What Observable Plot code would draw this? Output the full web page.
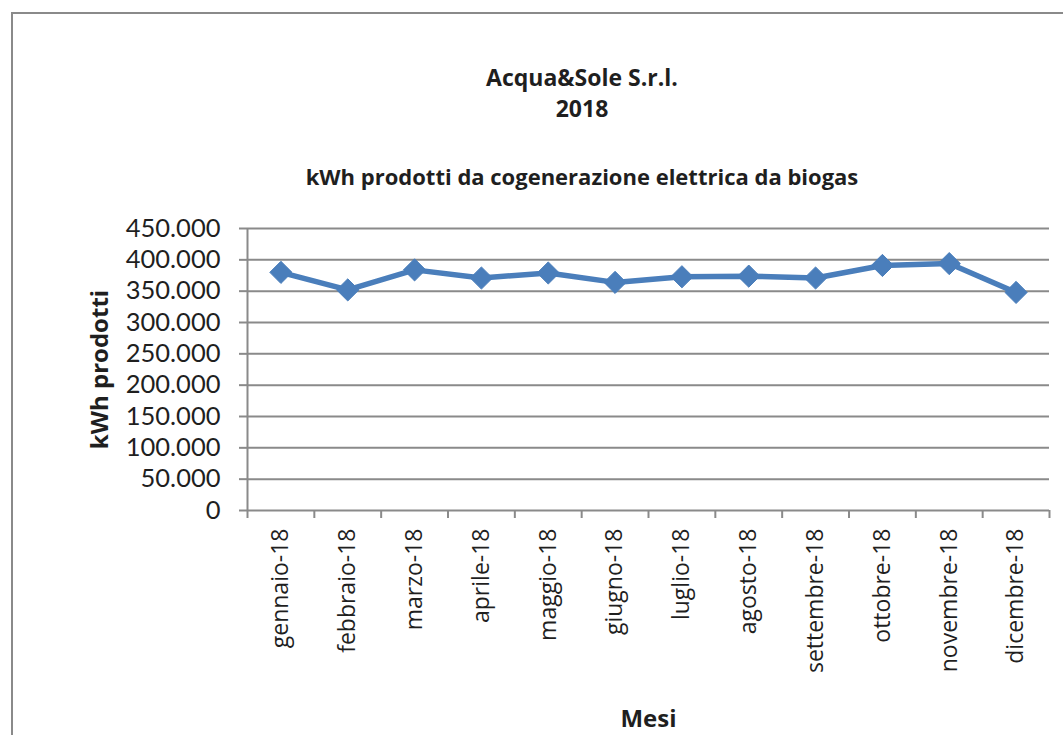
<!DOCTYPE html>
<html>
<head>
<meta charset="utf-8">
<script src="https://cdn.jsdelivr.net/npm/d3@7"></script>
<script src="https://cdn.jsdelivr.net/npm/@observablehq/plot@0.6"></script>
<style>
  html, body { margin: 0; padding: 0; background: #fff; }
  #wrap { position: relative; width: 1063px; height: 735px; overflow: hidden; background: #fff; font-family: "Open Sans", sans-serif; color: #1f1f1f; }
  #border { position: absolute; left: 11px; top: 12px; width: 1200px; height: 900px; border: 2px solid #8a8a8a; box-sizing: border-box; }
  .title { position: absolute; left: 0; width: 1164px; text-align: center; font-weight: bold; white-space: nowrap; }
  #t1 { top: 62px; font-size: 23px; line-height: 31px; }
  #t2 { top: 163px; font-size: 22px; line-height: 26px; }
  #chart { position: absolute; left: 0; top: 200px; }
</style>
</head>
<body>
<div id="wrap">
  <div id="border"></div>
  <div class="title" id="t1">Acqua&amp;Sole S.r.l.<br>2018</div>
  <div class="title" id="t2">kWh prodotti da cogenerazione elettrica da biogas</div>
  <div id="chart"></div>
</div>
<script>
const months = ["gennaio-18","febbraio-18","marzo-18","aprile-18","maggio-18","giugno-18","luglio-18","agosto-18","settembre-18","ottobre-18","novembre-18","dicembre-18"];
const kwh = [380000, 352000, 384000, 371000, 379000, 364000, 373000, 374000, 371000, 391000, 394000, 348000];
const yTicks = [0, 50000, 100000, 150000, 200000, 250000, 300000, 350000, 400000, 450000];
const yLabel = "kWh prodotti";
const xLabel = "Mesi";

const data = months.map((m, i) => ({month: m, idx: i + 0.5, value: kwh[i]}));
const centers = months.map((m, i) => i + 0.5);
const bounds = d3.range(months.length + 1);
const itFormat = d3.formatLocale({thousands: ".", grouping: [3], decimal: ","}).format(",");

const grey = "#8a8a8a";
const blue = "#4a7ebb";
const plotHeight = 535, mTop = 28, mBottom = 225;
const frameH = plotHeight - mTop - mBottom;

const plot = Plot.plot({
  width: 1063,
  height: plotHeight,
  marginLeft: 247,
  marginRight: 14,
  marginTop: mTop,
  marginBottom: mBottom,
  style: {fontFamily: "Open Sans, sans-serif", color: "#1f1f1f", background: "transparent", overflow: "visible"},
  x: {type: "linear", domain: [0, months.length]},
  y: {domain: [0, 450000]},
  marks: [
    Plot.ruleY(yTicks, {stroke: grey, strokeWidth: 2, strokeOpacity: 1}),
    Plot.ruleX([0], {stroke: grey, strokeWidth: 2, strokeOpacity: 1}),
    Plot.axisY(yTicks, {tickSize: 8, tickPadding: 19, tickFormat: itFormat, fontSize: 25.5, fontFamily: "Lato, sans-serif", label: null, stroke: grey, strokeWidth: 2, strokeOpacity: 1}),
    Plot.tickX(bounds, {insetTop: frameH, insetBottom: -8, stroke: grey, strokeWidth: 2, strokeOpacity: 1}),
    Plot.axisX(centers, {tickSize: 0, tickPadding: 18, tickRotate: -90, tickFormat: d => months[Math.floor(d)], fontSize: 23, label: null}),
    Plot.line(data, {x: "idx", y: "value", stroke: blue, strokeWidth: 5.5}),
    Plot.dot(data, {x: "idx", y: "value", symbol: "diamond2", r: 10, fill: blue, stroke: blue, strokeWidth: 1}),
    Plot.text([yLabel], {text: d => d, frameAnchor: "left", dx: -147, rotate: -90, fontSize: 24, fontWeight: "bold", textAnchor: "middle", lineAnchor: "middle"}),
    Plot.text([xLabel], {text: d => d, frameAnchor: "bottom", dy: 209, fontSize: 24, fontWeight: "bold", textAnchor: "middle", lineAnchor: "middle"})
  ]
});
document.getElementById("chart").appendChild(plot);
</script>
</body>
</html>
